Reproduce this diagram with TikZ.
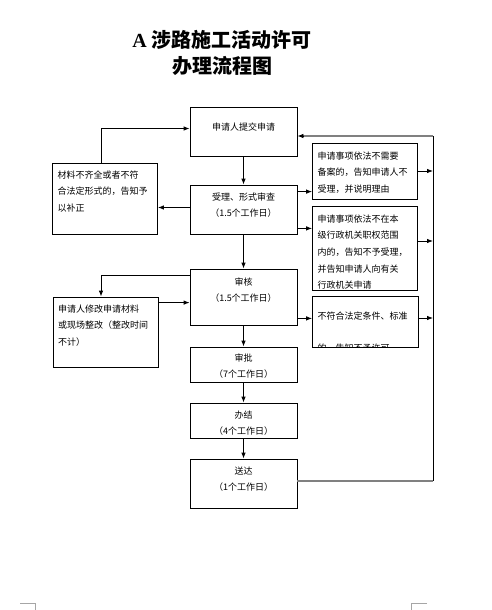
\documentclass[tikz,border=0pt]{standalone}
\usepackage{fontspec}
\setmainfont{Liberation Serif}
\newfontfamily\cjk{Noto Sans CJK SC}
\usetikzlibrary{arrows.meta, positioning}
\newcommand{\notetext}[2]{\parbox[c][#1][t]{95pt}{\raggedright #2}}
\newcommand{\steptext}[3]{\parbox[c][#1][t]{107pt}{\centering\vspace*{#2}#3}}

\tikzset{
  stepbox/.style={draw, line width=0.8pt, inner sep=0pt,
    font=\cjk\fontsize{9}{16.5}\selectfont},
  notebox/.style={draw, line width=0.8pt, inner xsep=5pt, inner ysep=8pt,
    font=\cjk\fontsize{9}{16.7}\selectfont},
  flow/.style={line width=0.8pt, -{Latex[length=6pt,width=4.5pt]}},
  back/.style={line width=1.8pt, draw=gray},
}

\begin{document}
\begin{tikzpicture}[x=1pt, y=-1pt]
  \useasboundingbox (0,0) rectangle (492,610);
  % title
  \node[align=center, font=\fontsize{20}{26}\selectfont\bfseries] (title) at (222,53)
    {A {\cjk\bfseries 涉路施工活动许可}\\{\cjk\bfseries 办理流程图}};
  % main steps
  \node[stepbox] (apply) at (243.5,131.5) {\steptext{49pt}{15.6pt}{申请人提交申请}};
  \node[stepbox] (accept) at (243.5,209.5) {\steptext{49pt}{7.6pt}{受理、形式审查\\（1.5个工作日）}};
  \node[stepbox] (review) at (243.5,297) {\steptext{56pt}{8.6pt}{审核\\（1.5个工作日）}};
  \node[stepbox] (approve) at (243.5,364.5) {\steptext{35pt}{6.6pt}{审批\\（7个工作日）}};
  \node[stepbox] (finish) at (243.5,420.5) {\steptext{35pt}{7.6pt}{办结\\（4个工作日）}};
  \node[stepbox] (deliver) at (243.5,483.5) {\steptext{49pt}{7.6pt}{送达\\（1个工作日）}};
  % left notes
  \node[notebox, inner ysep=7.5pt] (fix) at (105,198.5)
    {\notetext{56pt}{材料不齐全或者不符\\合法定形式的，告知予\\以补正}};
  \node[notebox, inner ysep=7.5pt] (modify) at (105.5,332)
    {\notetext{55pt}{申请人修改申请材料\\或现场整改（整改时间\\不计）}};
  % right notes
  \node[notebox, inner ysep=8.5pt] (norec) at (365,171)
    {\notetext{39pt}{申请事项依法不需要\\备案的，告知申请人不\\受理，并说明理由}};
  \node[notebox, inner ysep=8.5pt] (outside) at (365,248)
    {\notetext{67pt}{申请事项依法不在本\\级行政机关职权范围\\内的，告知不予受理，\\并告知申请人向有关\\行政机关申请}};
  \begin{scope}
    \clip (300,290) rectangle (430,346.2);
    \node[notebox, draw=none, inner ysep=0pt] (unfit) at (365,322)
      {\notetext{50pt}{\vspace*{14.6pt}不符合法定条件、标准\\[16pt]的，告知不予许可}};
  \end{scope}
  \draw[line width=0.8pt] (unfit.north west) rectangle (unfit.south east);
  % down the main line
  \draw[flow] (apply) -- (accept);
  \draw[flow] (accept) -- (review);
  \draw[flow] (review) -- (approve);
  \draw[flow] (approve) -- (finish);
  \draw[flow] (finish) -- (deliver);
  % loops on the left
  \draw[flow] ([yshift=2pt]accept.west) -- ([yshift=2pt]accept.west -| fix.east);
  \draw[flow] ([xshift=-4pt]fix.north) |- ([yshift=3pt]apply.west);
  \draw[flow] ([yshift=-7pt]review.north west) -| ([xshift=-4.5pt]modify.north);
  \draw[flow] ([yshift=-6pt]modify.north east) -- ([yshift=-6pt]modify.north east -| review.west);
  % branches on the right
  \draw[flow] ([yshift=-7pt]accept.north east) -- ([yshift=-7pt]accept.north east -| norec.west);
  \draw[flow] ([yshift=6pt]accept.south east) -- ([yshift=6pt]accept.south east -| outside.west);
  \draw[flow] ([yshift=7pt]review.south east) -- ([yshift=7pt]review.south east -| unfit.west);
  % return rail
  \coordinate (railtop) at (433,136);
  \coordinate (railbot) at (433,481);
  \draw[line width=0.8pt] (railtop) -- (railbot);
  \draw[flow] (norec.east) -- (norec.east -| railtop);
  \draw[flow] ([yshift=7pt]outside.east) -- ([yshift=7pt]outside.east -| railtop);
  \draw[flow] ([yshift=4pt]unfit.east) -- ([yshift=4pt]unfit.east -| railtop);
  \draw[back] (railbot -| deliver.east) -- (railbot);
  \draw[back] (railtop) -- ([xshift=5pt]railtop -| apply.east);
  \draw[flow] ([xshift=6pt]railtop -| apply.east) -- (railtop -| apply.east);
  % page corner marks
  \draw[gray!70, line width=0.8pt] (20,603) -- (35.5,603) -- (35.5,610);
  \draw[gray!70, line width=0.8pt] (427,603) -- (411.5,603) -- (411.5,610);
\end{tikzpicture}
\end{document}
